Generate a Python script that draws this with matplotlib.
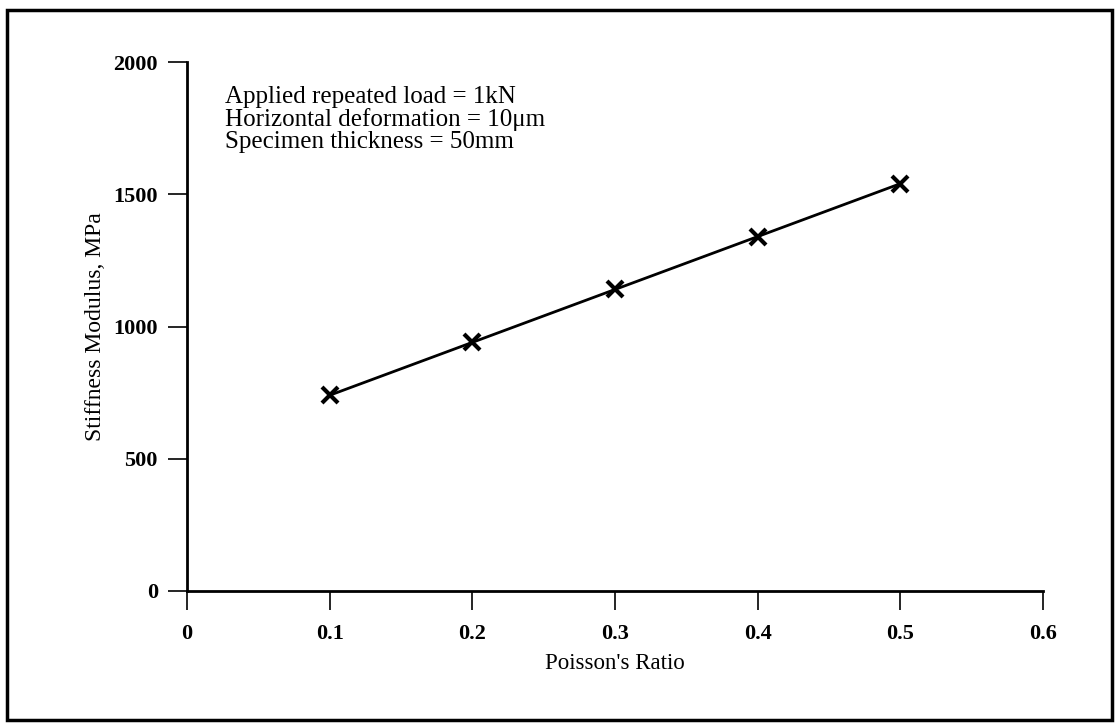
import matplotlib
matplotlib.use("Agg")
import matplotlib.pyplot as plt
from matplotlib.patches import Rectangle

poisson_ratio = [0.1, 0.2, 0.3, 0.4, 0.5]
stiffness_mpa = [740, 940, 1140, 1340, 1540]
x_ticks = [0, 0.1, 0.2, 0.3, 0.4, 0.5, 0.6]
x_tick_labels = ["0", "0.1", "0.2", "0.3", "0.4", "0.5", "0.6"]
y_ticks = [0, 500, 1000, 1500, 2000]
annotation_lines = ["Applied repeated load = 1kN",
                    "Horizontal deformation = 10\u03bcm",
                    "Specimen thickness = 50mm"]

plt.rcParams['font.family'] = ['Liberation Serif', 'DejaVu Serif']

fig = plt.figure(figsize=(11.16, 7.23), dpi=100)
fig.patches.append(Rectangle((7/1116, 1-720/723), (1112-7)/1116, (720-10)/723,
                             transform=fig.transFigure, fill=False,
                             edgecolor='black', linewidth=2.5))
ax = fig.add_axes([187/1116, 1-591/723, (1043-187)/1116, (591-62)/723])

ax.plot(poisson_ratio, stiffness_mpa, color='black', linewidth=2,
        marker='x', markersize=12, markeredgewidth=3)

ax.set_xlim(0, 0.6)
ax.set_ylim(0, 2000)
ax.set_xticks(x_ticks)
ax.set_xticklabels(x_tick_labels)
ax.set_yticks(y_ticks)
for lab in ax.get_xticklabels() + ax.get_yticklabels():
    lab.set_fontweight('bold')
    lab.set_fontsize(16)
ax.tick_params(direction='out', length=14, width=1.2, pad=7)
ax.tick_params(axis='x', pad=10)

for s in ['top', 'right']:
    ax.spines[s].set_visible(False)
for s in ['left', 'bottom']:
    ax.spines[s].set_linewidth(2)

ax.set_xlabel("Poisson's Ratio", fontsize=16.5, labelpad=6)
ax.set_ylabel("Stiffness Modulus, MPa", fontsize=17, labelpad=5)

ax.text(225/1116, 1-86/723, "\n".join(annotation_lines), transform=fig.transFigure,
        fontsize=18, va='top', ha='left', linespacing=1.0)

fig.savefig("out.png", dpi=100)
